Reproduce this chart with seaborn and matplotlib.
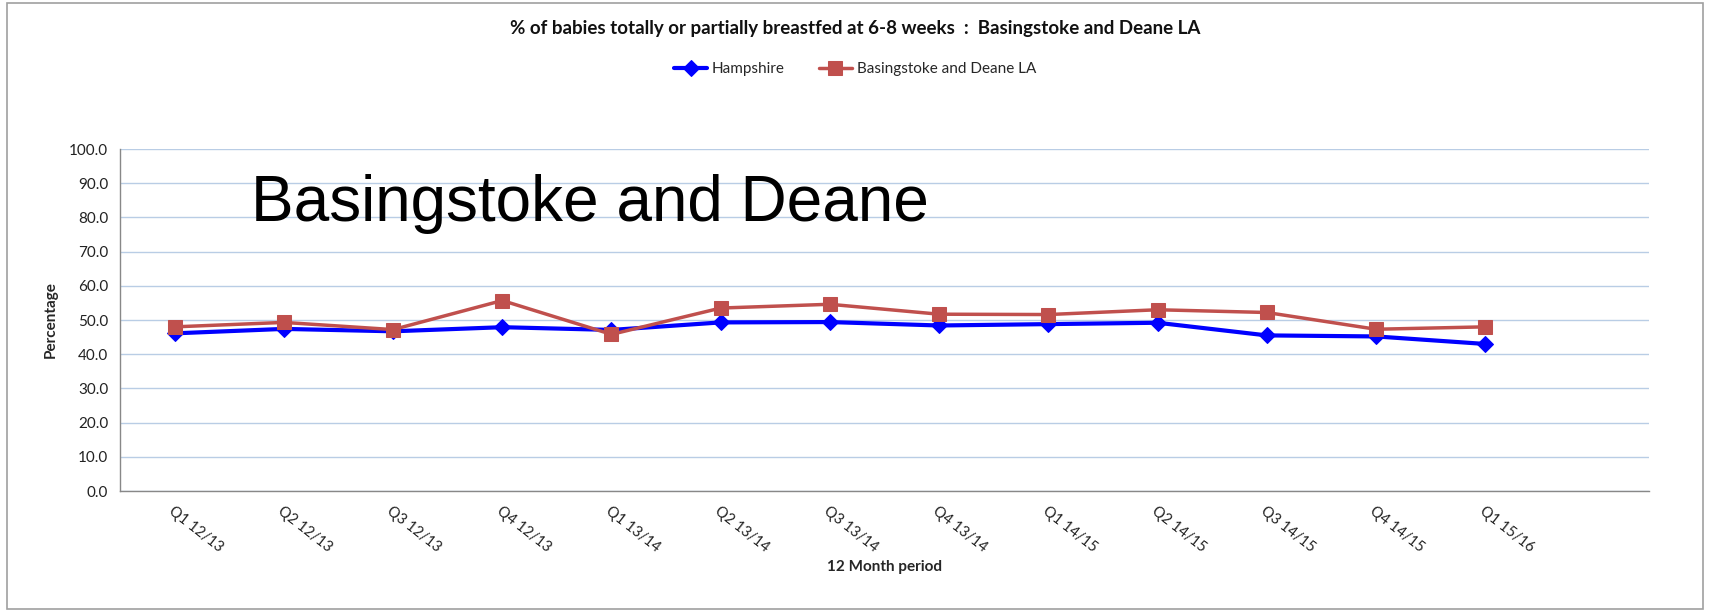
import numpy as np
import pandas as pd
import seaborn as sns
import matplotlib.pyplot as plt
from matplotlib.patches import Rectangle
from matplotlib.ticker import FormatStrFormatter

sns.set_theme(style="white")
plt.rcParams['font.family'] = ['Lato', 'DejaVu Sans']

periods = ["Q1 12/13", "Q2 12/13", "Q3 12/13", "Q4 12/13", "Q1 13/14", "Q2 13/14",
           "Q3 13/14", "Q4 13/14", "Q1 14/15", "Q2 14/15", "Q3 14/15", "Q4 14/15",
           "Q1 15/16"]
hampshire = [46.1, 47.4, 46.7, 47.9, 47.1, 49.3, 49.4, 48.4, 48.8, 49.2, 45.5, 45.2, 43.0]
basingstoke = [48.0, 49.3, 47.2, 55.7, 45.8, 53.5, 54.6, 51.7, 51.6, 53.0, 52.2, 47.3, 48.0]

df = pd.DataFrame({
    "period": periods * 2,
    "value": hampshire + basingstoke,
    "series": ["Hampshire"] * len(periods) + ["Basingstoke and Deane LA"] * len(periods),
})

fig = plt.figure(figsize=(17.1, 6.12), dpi=100)
ax = fig.add_axes([0.0702, 0.1977, 0.8941, 0.5588])

sns.lineplot(data=df[df.series == "Hampshire"], x="period", y="value", color="#0000FF",
             marker="D", markersize=8, markeredgecolor="#0000FF", linewidth=3,
             label="Hampshire", ax=ax, sort=False)
sns.lineplot(data=df[df.series == "Basingstoke and Deane LA"], x="period", y="value",
             color="#C0504D", marker="s", markersize=10, markeredgecolor="#C0504D",
             linewidth=2.5, label="Basingstoke and Deane LA", ax=ax, sort=False)

ax.set_xlim(-0.5, 13.5)
ax.set_ylim(0, 100)
ax.set_yticks(np.arange(0, 101, 10))
ax.yaxis.set_major_formatter(FormatStrFormatter("%.1f"))
ax.grid(axis="y", color="#B9CDE5", linewidth=1)
ax.set_axisbelow(True)

ax.set_xticks(range(len(periods)))
ax.set_xticklabels(periods, rotation=-38, ha="left", va="top", rotation_mode="anchor",
                   fontsize=10.5, color="#222222")
ax.set_xticks(np.arange(-0.5, 14, 1), minor=True)
ax.tick_params(axis="x", which="major", length=0, pad=9)
ax.tick_params(axis="x", which="minor", length=6, color="#888888", direction="out")
ax.tick_params(axis="y", length=5, color="#888888", direction="out", labelsize=11,
               labelcolor="#222222")

for s in ["top", "right"]:
    ax.spines[s].set_visible(False)
for s in ["left", "bottom"]:
    ax.spines[s].set_color("#888888")
    ax.spines[s].set_linewidth(1)

ax.set_xlabel("12 Month period", fontsize=11, fontweight="bold", labelpad=4)
ax.set_ylabel("Percentage", fontsize=11, fontweight="bold", labelpad=8)

ax.legend(loc="center", bbox_to_anchor=(0.5, 0.887), bbox_transform=fig.transFigure,
          ncol=2, frameon=False, fontsize=11, handlelength=2.2, columnspacing=2.2,
          handletextpad=0.3)

fig.text(0.5, 0.953, "% of babies totally or partially breastfed at 6-8 weeks  :  Basingstoke and Deane LA",
         ha="center", va="center", fontsize=13.5, fontweight="bold", color="#111111")

fig.text(0.147, 0.667, "Basingstoke and Deane", ha="left", va="center", fontsize=46,
         family="Liberation Sans", color="black")

fig.patches.append(Rectangle((0.004, 0.005), 0.992, 0.99, transform=fig.transFigure,
                             fill=False, edgecolor="#A0A0A0", linewidth=1.2))

fig.savefig("out.png", dpi=100, facecolor="white")
